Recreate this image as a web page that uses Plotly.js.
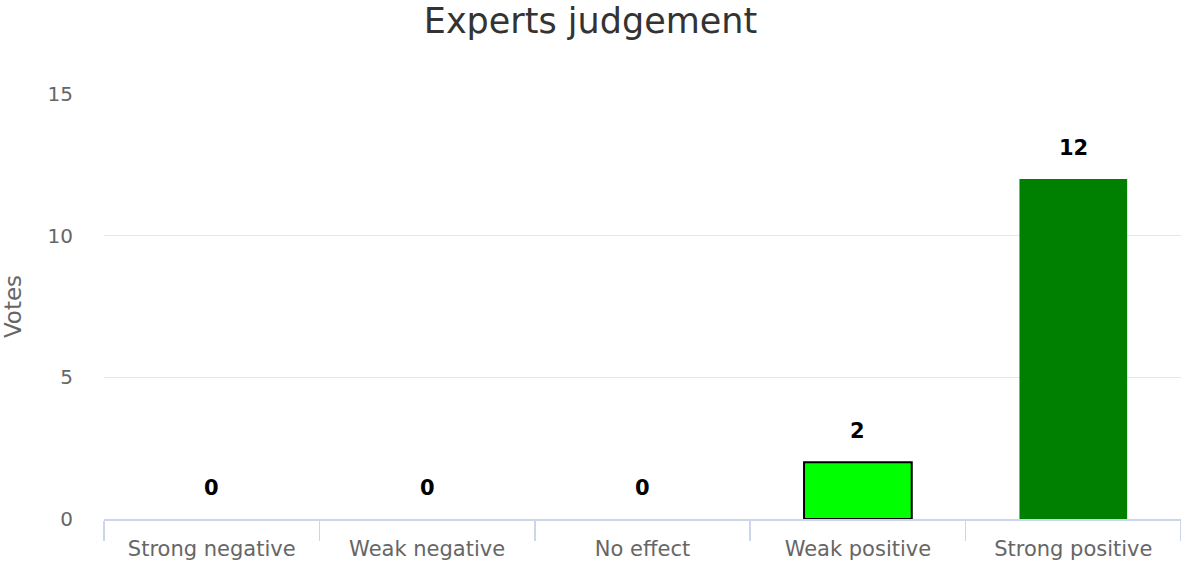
<!DOCTYPE html>
<html>
<head>
<meta charset="utf-8">
<script src="https://cdn.plot.ly/plotly-3.0.1.min.js"></script>
<style>
html,body{margin:0;padding:0;background:#fff;}
#chart{width:1181px;height:563px;}
</style>
</head>
<body>
<div id="chart"></div>
<script>
const categories = ["Strong negative", "Weak negative", "No effect", "Weak positive", "Strong positive"];
const votes = [0, 0, 0, 2, 12];
const barColors = ["#ff0000", "#ff8080", "#cccccc", "#00ff00", "#008000"];
const barLineColors = ["#000000", "#000000", "#000000", "#000000", "#008000"];
const barLineWidths = [0, 0, 0, 2, 0];
const yTicks = [0, 5, 10, 15];

const font = "DejaVu Sans, Verdana, sans-serif";

const trace = {
  type: "bar",
  x: categories,
  y: votes,
  marker: {color: barColors, line: {color: barLineColors, width: barLineWidths}},
  hoverinfo: "x+y",
  showlegend: false
};

const annotations = categories.map((c, i) => ({
  x: c, y: votes[i], xref: "x", yref: "y",
  text: "<b>" + votes[i] + "</b>",
  showarrow: false, yanchor: "middle", yshift: 31,
  font: {family: font, size: 21, color: "#000000"}
}));

const layout = {
  width: 1181, height: 563,
  margin: {l: 104, r: 0, t: 94, b: 44},
  paper_bgcolor: "#ffffff", plot_bgcolor: "#ffffff",
  bargap: 0.5,
  title: {text: "Experts judgement", x: 0.5, xanchor: "center", y: 0.963, yanchor: "middle",
          font: {family: font, size: 35, color: "#333333"}},
  xaxis: {
    type: "category",
    showgrid: false,
    showline: true, linecolor: "#ccd6eb", linewidth: 1.5,
    ticks: "outside", tickson: "boundaries", ticklen: 20, tickcolor: "#ccd6eb", tickwidth: 1.5,
    ticklabelstandoff: 10,
    tickfont: {family: font, size: 21, color: "#666666"},
    fixedrange: true
  },
  yaxis: {
    range: [0, 15],
    tickvals: yTicks,
    ticktext: yTicks.map(String),
    showgrid: true, gridcolor: "#e6e6e6", gridwidth: 1.5,
    zeroline: false, showline: false,
    ticks: "", ticklabelstandoff: 30,
    tickfont: {family: font, size: 20, color: "#666666"},
    title: {text: "Votes", font: {family: font, size: 23, color: "#666666"}, standoff: 22},
    fixedrange: true
  },
  annotations: annotations
};

Plotly.newPlot("chart", [trace], layout, {displayModeBar: false, staticPlot: true});
</script>
</body>
</html>
